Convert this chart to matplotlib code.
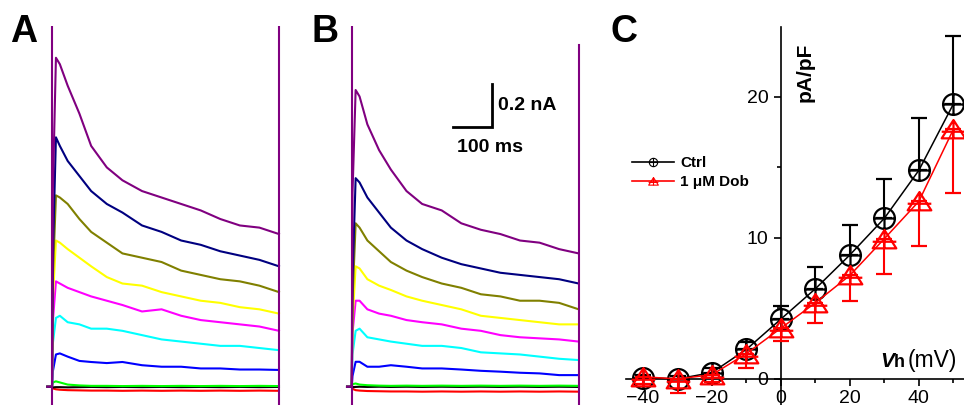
import numpy as np
import matplotlib
matplotlib.use('Agg')
import matplotlib.pyplot as plt
from matplotlib.path import Path
from matplotlib.lines import Line2D

plt.rcParams['font.family'] = ['Liberation Sans', 'DejaVu Sans']

## Datos de las corrientes (A = Ctrl, B = 1 uM Dob), tiempo en ms y corriente en nA
t_ms = [-12, 0, 2, 10, 20, 40, 70, 100, 140, 180, 230, 280, 330, 380, 430, 480, 530, 580]
duracion_ms = 580

# orden: -40, -30, -20, -10, 0, 10, 20, 30, 40, 50 mV
colores = ['#FF0000', '#000000', '#00FF00', '#0000FF', '#00FFFF',
           '#FF00FF', '#FFFF00', '#808000', '#000080', '#800080']

trazas_A = [
    [0, 0, -0.008, -0.012, -0.014, -0.016, -0.017, -0.018, -0.018, -0.019, -0.018, -0.019, -0.018, -0.019, -0.018, -0.019, -0.018, -0.019],
    [0, 0, -0.003, -0.002, -0.002, -0.003, -0.002, -0.001, -0.002, -0.001, -0.002, -0.001, -0.002, -0.001, -0.002, -0.001, -0.002, -0.001],
    [0, 0, 0.020, 0.025, 0.020, 0.010, 0.006, 0.004, 0.004, 0.003, 0.004, 0.003, 0.004, 0.003, 0.004, 0.003, 0.004, 0.003],
    [0, 0, 0.07, 0.15, 0.155, 0.14, 0.12, 0.115, 0.11, 0.115, 0.10, 0.093, 0.093, 0.085, 0.085, 0.08, 0.08, 0.078],
    [0, 0, 0.20, 0.32, 0.33, 0.30, 0.29, 0.27, 0.27, 0.26, 0.24, 0.22, 0.21, 0.20, 0.19, 0.19, 0.18, 0.17],
    [0, 0, 0.30, 0.49, 0.48, 0.46, 0.44, 0.42, 0.40, 0.38, 0.35, 0.36, 0.33, 0.31, 0.30, 0.29, 0.28, 0.26],
    [0, 0, 0.40, 0.68, 0.67, 0.64, 0.60, 0.56, 0.51, 0.48, 0.47, 0.44, 0.42, 0.40, 0.39, 0.37, 0.36, 0.34],
    [0, 0, 0.50, 0.89, 0.88, 0.85, 0.78, 0.72, 0.67, 0.62, 0.60, 0.58, 0.54, 0.52, 0.50, 0.49, 0.47, 0.44],
    [0, 0, 0.60, 1.16, 1.12, 1.05, 0.98, 0.91, 0.85, 0.81, 0.75, 0.72, 0.68, 0.66, 0.63, 0.61, 0.59, 0.56],
    [0, 0, 0.90, 1.53, 1.50, 1.40, 1.27, 1.12, 1.02, 0.96, 0.91, 0.88, 0.85, 0.82, 0.78, 0.75, 0.74, 0.71],
]

trazas_B = [
    [0, 0, -0.010, -0.016, -0.018, -0.020, -0.021, -0.022, -0.022, -0.023, -0.022, -0.023, -0.022, -0.023, -0.022, -0.023, -0.022, -0.023],
    [0, 0, -0.002, -0.001, 0.000, -0.001, 0.000, -0.001, 0.000, -0.001, 0.000, -0.001, 0.000, -0.001, 0.000, -0.001, 0.000, -0.001],
    [0, 0, 0.012, 0.015, 0.010, 0.007, 0.005, 0.004, 0.005, 0.004, 0.005, 0.004, 0.005, 0.004, 0.005, 0.004, 0.005, 0.004],
    [0, 0, 0.05, 0.116, 0.116, 0.093, 0.093, 0.10, 0.093, 0.085, 0.085, 0.08, 0.074, 0.07, 0.065, 0.062, 0.054, 0.054],
    [0, 0, 0.15, 0.26, 0.27, 0.23, 0.22, 0.21, 0.20, 0.19, 0.19, 0.18, 0.16, 0.155, 0.15, 0.14, 0.13, 0.124],
    [0, 0, 0.25, 0.40, 0.40, 0.36, 0.34, 0.33, 0.31, 0.30, 0.29, 0.27, 0.26, 0.24, 0.23, 0.225, 0.22, 0.21],
    [0, 0, 0.30, 0.56, 0.55, 0.50, 0.47, 0.45, 0.42, 0.40, 0.38, 0.36, 0.33, 0.32, 0.31, 0.30, 0.29, 0.29],
    [0, 0, 0.40, 0.76, 0.74, 0.68, 0.63, 0.58, 0.54, 0.51, 0.48, 0.46, 0.43, 0.42, 0.40, 0.40, 0.39, 0.36],
    [0, 0, 0.50, 0.97, 0.95, 0.88, 0.81, 0.74, 0.68, 0.64, 0.60, 0.57, 0.55, 0.53, 0.52, 0.51, 0.50, 0.48],
    [0, 0, 0.90, 1.38, 1.35, 1.22, 1.10, 1.01, 0.91, 0.85, 0.82, 0.76, 0.73, 0.71, 0.68, 0.67, 0.64, 0.62],
]

# transitorios capacitivos (parte visible, nA)
transitorio_A = [1.674, 1.674]
transitorio_B = [1.674, 1.589]

escala_ms = 100
escala_nA = 0.2

## Datos I-V (pA/pF)
Vh = [-40, -30, -20, -10, 0, 10, 20, 30, 40, 50]
ctrl = [0.1, 0.0, 0.45, 2.1, 4.25, 6.4, 8.8, 11.4, 14.8, 19.5]
ctrl_err = [0.2, 0.2, 0.3, 0.5, 0.95, 1.55, 2.15, 2.8, 3.7, 4.8]
dob = [0.15, 0.0, 0.3, 1.8, 3.6, 5.4, 7.35, 9.95, 12.6, 17.7]
dob_err = [0.5, 1.0, 0.5, 1.0, 0.9, 1.4, 1.85, 2.5, 3.2, 4.5]

W, H = 964, 405
fig = plt.figure(figsize=(W / 100, H / 100), dpi=100)


def px(x, y):
    return x / W, 1 - y / H


# Paneles de trazas
def dibujar_trazas(left_px, trazas, transitorio):
    ax = fig.add_axes([left_px / W, 0, 242.6 / W, 379.5 / H])
    ax.set_xlim(-20, 600)
    ax.set_ylim(-0.085, 1.68)
    ax.axis('off')
    for traza, c in zip(trazas, colores):
        ax.plot(t_ms, traza, color=c, lw=1.5)
    ax.plot([0, 0], [-0.085, transitorio[0]], color='#800080', lw=1.5)
    ax.plot([duracion_ms, duracion_ms], [-0.085, transitorio[1]], color='#800080', lw=1.5)
    return ax


axA = dibujar_trazas(44.2, trazas_A, transitorio_A)
axB = dibujar_trazas(343.9, trazas_B, transitorio_B)

# barra de escala
x0, y0 = 259, 1.209
axB.plot([x0, x0 + escala_ms, x0 + escala_ms], [y0, y0, y0 + escala_nA], color='k', lw=2,
         solid_joinstyle='miter')
axB.text(x0 + escala_ms + 15, y0 + escala_nA / 2, '0.2 nA', fontsize=14, fontweight='bold',
         va='center', ha='left')
axB.text(x0 + 10, y0 - 0.095, '100 ms', fontsize=14, fontweight='bold', va='center', ha='left')

# Panel C
axC = fig.add_axes([625.8 / W, 0, 344.8 / W, 378.5 / H])
axC.set_xlim(-45, 55)
axC.set_ylim(-1.85, 25)
axC.spines['top'].set_visible(False)
axC.spines['right'].set_visible(False)
axC.spines['left'].set_position(('data', 0))
axC.spines['bottom'].set_position(('data', 0))
axC.spines['left'].set_linewidth(1.2)
axC.spines['bottom'].set_linewidth(1.2)
axC.patch.set_alpha(0)

circ_plus = Path.make_compound_path(
    Path.unit_circle(),
    Path([[-1, 0], [1, 0]], [Path.MOVETO, Path.LINETO]),
    Path([[0, -1], [0, 1]], [Path.MOVETO, Path.LINETO]))
tri_plus = Path.make_compound_path(
    Path([[0, 0.8], [-1, -0.75], [1, -0.75], [0, 0.8]],
         [Path.MOVETO, Path.LINETO, Path.LINETO, Path.CLOSEPOLY]),
    Path([[0, 0.8], [0, -0.75]], [Path.MOVETO, Path.LINETO]),
    Path([[-1, -0.19], [1, -0.19]], [Path.MOVETO, Path.LINETO]))

axC.errorbar(Vh, ctrl, yerr=[[0] * len(Vh), ctrl_err], color='k', lw=1.1, marker=circ_plus,
             markersize=15, mfc='none', mew=1.6, elinewidth=1.5, capsize=6, capthick=1.5, zorder=3)
axC.errorbar(Vh, dob, yerr=[dob_err, [0] * len(Vh)], color='#FF0000', lw=1.1, marker=tri_plus,
             markersize=17, mfc='none', mew=1.6, elinewidth=1.5, capsize=6, capthick=1.5, zorder=4)

axC.set_xticks([-40, -20, 0, 20, 40])
axC.set_xticks([-30, -10, 10, 30, 50], minor=True)
axC.set_yticks([0, 10, 20])
axC.set_yticks([5, 15], minor=True)
axC.tick_params(axis='both', which='major', direction='out', length=5, width=1.2, labelsize=14)
axC.tick_params(axis='both', which='minor', direction='out', length=3, width=1.2)
axC.tick_params(axis='x', pad=3)
axC.tick_params(axis='y', pad=4)

h1 = Line2D([], [], color='k', lw=1.2, marker=circ_plus, markersize=6, mfc='none', mew=0.8)
h2 = Line2D([], [], color='#FF0000', lw=1.2, marker=tri_plus, markersize=7, mfc='none', mew=0.8)
fig.legend([h1, h2], ['Ctrl', '1 \u03bcM Dob'], loc='upper left', bbox_to_anchor=px(632, 156),
           frameon=False, borderpad=0, borderaxespad=0, handlelength=2.75, handletextpad=0.4,
           labelspacing=0.35, prop={'weight': 'bold', 'size': 11})

fig.text(*px(805, 72), 'pA/pF', rotation=90, fontsize=15, fontweight='bold', ha='center', va='center')
fig.text(*px(880, 367), 'V', fontsize=15, fontweight='bold', style='italic', va='baseline')
fig.text(*px(894, 367), 'h', fontsize=13, fontweight='bold', va='baseline')
fig.text(*px(908, 367), '(mV)', fontsize=16.5, va='baseline')

# Letras de los paneles
for letra, xp in [('A', 10), ('B', 312), ('C', 610)]:
    fig.text(*px(xp, 42), letra, fontsize=27, fontweight='bold', va='baseline')

fig.savefig('out.png', dpi=100)
